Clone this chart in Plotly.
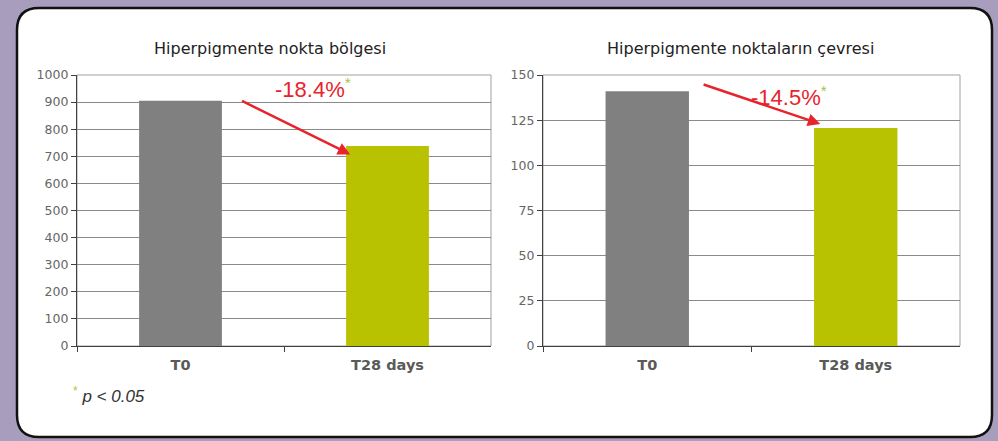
import plotly.graph_objects as go

# ---- data ----
categories = ["T0", "T28 days"]
area_values = [905, 738]          # Hiperpigmente nokta bölgesi
perimeter_values = [141, 120.6]   # Hiperpigmente noktaların çevresi
bar_colors = ["#808080", "#b8c200"]
titles = ["Hiperpigmente nokta bölgesi", "Hiperpigmente noktaların çevresi"]
changes = ["-18.4%", "-14.5%"]
left_ticks = list(range(0, 1001, 100))
right_ticks = list(range(0, 151, 25))

W, H = 998, 441
def px(x):
    return x / W
def py(y):
    return 1 - y / H

PURPLE = "#a99dbd"
RED = "#e8232b"
GREEN = "#a8c43c"

fig = go.Figure()
fig.add_trace(go.Bar(x=categories, y=area_values, marker=dict(color=bar_colors, line=dict(width=0)),
                     xaxis="x", yaxis="y", showlegend=False, hoverinfo="skip"))
fig.add_trace(go.Bar(x=categories, y=perimeter_values, marker=dict(color=bar_colors, line=dict(width=0)),
                     xaxis="x2", yaxis="y2", showlegend=False, hoverinfo="skip"))

ytick_font = dict(family="DejaVu Sans", size=12.5, color="#666666")
xtick_font = dict(family="DejaVu Sans", size=14.5, color="#5a5a5a", weight="bold")

common_x = dict(type="category", showline=True, linecolor="#404040", linewidth=1.2,
                ticks="outside", tickson="boundaries", ticklen=5, tickcolor="#404040",
                tickfont=xtick_font, showgrid=False, fixedrange=True, automargin=False,
                ticklabelstandoff=5)
common_y = dict(showline=True, linecolor="#404040", linewidth=1.2, ticks="outside",
                ticklen=5, tickcolor="#404040", tickfont=ytick_font, showgrid=True,
                gridcolor="#8a8a8a", gridwidth=1, zeroline=False, fixedrange=True,
                automargin=False)

fig.update_layout(
    width=W, height=H, autosize=False,
    margin=dict(l=0, r=0, t=0, b=0, pad=0, autoexpand=False),
    paper_bgcolor=PURPLE, plot_bgcolor="white",
    bargap=0.6,
    xaxis=dict(domain=[px(77), px(491)], anchor="y", **common_x),
    yaxis=dict(domain=[py(346), py(75)], anchor="x", range=[0, 1000],
               tickvals=left_ticks, **common_y),
    xaxis2=dict(domain=[px(543), px(960)], anchor="y2", **common_x),
    yaxis2=dict(domain=[py(346), py(75)], anchor="x2", range=[0, 150],
                tickvals=right_ticks, **common_y),
)

# rounded white panel with dark border
x0, x1, y0, y1, r = 17, 992, 8, 437, 22
path = (f"M {px(x0+r)},{py(y0)} L {px(x1-r)},{py(y0)} Q {px(x1)},{py(y0)} {px(x1)},{py(y0+r)} "
        f"L {px(x1)},{py(y1-r)} Q {px(x1)},{py(y1)} {px(x1-r)},{py(y1)} "
        f"L {px(x0+r)},{py(y1)} Q {px(x0)},{py(y1)} {px(x0)},{py(y1-r)} "
        f"L {px(x0)},{py(y0+r)} Q {px(x0)},{py(y0)} {px(x0+r)},{py(y0)} Z")
shapes = [dict(type="path", path=path, xref="paper", yref="paper", layer="below",
               fillcolor="white", line=dict(color="#111111", width=2.5))]
# light plot-area frame (top/right)
for xr, yr in [("x", "y"), ("x2", "y2")]:
    shapes.append(dict(type="rect", xref=f"{xr} domain", yref=f"{yr} domain",
                       x0=0, x1=1, y0=0, y1=1, layer="below",
                       line=dict(color="#a0a0a0", width=1), fillcolor="rgba(0,0,0,0)"))
fig.update_layout(shapes=shapes)

ann = []
# titles
ann.append(dict(text=titles[0], xref="paper", yref="paper", x=px(270), y=py(48),
                xanchor="center", yanchor="middle", showarrow=False,
                font=dict(family="DejaVu Sans", size=16, color="#222222")))
ann.append(dict(text=titles[1], xref="paper", yref="paper", x=px(740), y=py(48),
                xanchor="center", yanchor="middle", showarrow=False,
                font=dict(family="DejaVu Sans", size=16, color="#222222")))
# arrows
ann.append(dict(text="", xref="x", yref="y", axref="x", ayref="y",
                x=0.82, y=707, ax=0.29, ay=907, showarrow=True,
                arrowhead=2, arrowsize=1, arrowwidth=2.5, arrowcolor=RED))
ann.append(dict(text="", xref="x2", yref="y2", axref="x2", ayref="y2",
                x=0.83, y=122.9, ax=0.263, ay=145, showarrow=True,
                arrowhead=2, arrowsize=1, arrowwidth=2.5, arrowcolor=RED))
# change labels
star = f"<sup><span style='color:{GREEN}'>*</span></sup>"
ann.append(dict(text=changes[0] + star, xref="x", yref="y", x=0.64, y=952, showarrow=False,
                xanchor="center", yanchor="middle",
                font=dict(family="Liberation Sans", size=22, color=RED)))
ann.append(dict(text=changes[1] + star, xref="x2", yref="y2", x=0.68, y=138.4, showarrow=False,
                xanchor="center", yanchor="middle",
                font=dict(family="Liberation Sans", size=22, color=RED)))
# footnote
ann.append(dict(text=f"<span style='color:{GREEN}'><sup>*</sup></span> <i>p &lt; 0.05</i>",
                xref="paper", yref="paper", x=px(71), y=py(395), xanchor="left",
                yanchor="middle", showarrow=False,
                font=dict(family="Liberation Sans", size=17, color="#333333")))
fig.update_layout(annotations=ann)

fig.write_html("out.html", config={"displayModeBar": False},
               post_script="document.body.style.margin='0';document.body.style.padding='0';")
